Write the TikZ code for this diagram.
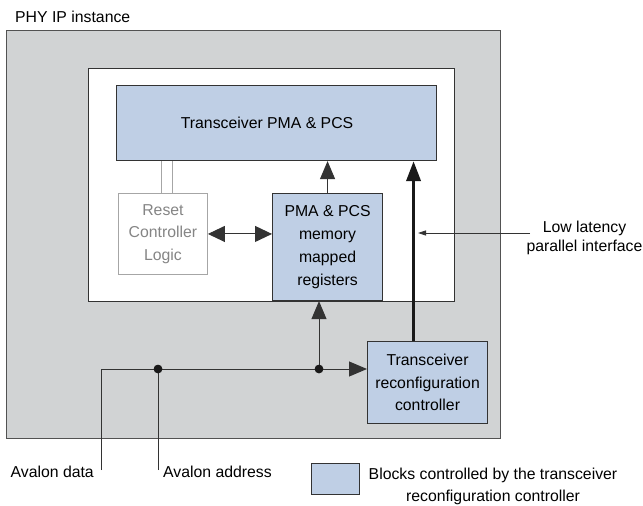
\documentclass[tikz,border=0pt]{standalone}
\usepackage{fontspec}
\setmainfont{Liberation Sans}
\usetikzlibrary{arrows.meta,calc}

\definecolor{shellgray}{HTML}{D1D3D4}
\definecolor{ctrlblue}{HTML}{BFCFE5}
\definecolor{edgegray}{HTML}{333333}
\definecolor{resetgray}{HTML}{858585}
\definecolor{resetedge}{HTML}{A6A6A6}

\tikzset{
  lbl/.style={font=\fontsize{15.8}{22.5}\selectfont, align=center, inner sep=0pt},
  shell/.style={draw=edgegray!85, line width=1.3pt, fill=shellgray, anchor=north west, inner sep=0pt},
  area/.style={draw=edgegray, line width=1.1pt, fill=white, anchor=north west, inner sep=0pt},
  ctrlbox/.style={draw=edgegray, line width=1.1pt, fill=ctrlblue, anchor=north west, inner sep=0pt,
    font=\fontsize{15.8}{22.5}\selectfont, align=center},
  resetbox/.style={draw=resetedge, line width=0.9pt, fill=white, anchor=north west, inner sep=0pt,
    text=resetgray, font=\fontsize{15.8}{22.5}\selectfont, align=center},
  wire/.style={draw=edgegray, line width=1pt},
  resetwire/.style={draw=resetedge, line width=0.9pt},
  arr/.style={wire, -{Triangle[length=18pt,width=15pt]}},
  dblarr/.style={wire, {Triangle[length=17pt,width=16pt]}-{Triangle[length=17pt,width=16pt]}},
  busarr/.style={draw=black!90, line width=3.6pt, -{Triangle[length=20pt,width=14pt]}},
  smallarr/.style={draw=edgegray, line width=0.8pt, -{Triangle[length=8pt,width=5pt]}},
  junction/.style={circle, fill=black!90, inner sep=0pt, minimum size=8.5pt},
}

\begin{document}
\begin{tikzpicture}[x=1pt, y=-1pt]
\useasboundingbox (0,0) rectangle (643,506);

% outer PHY IP wrapper and its title
\node[lbl, anchor=base west] (title) at (15,22) {PHY IP instance};
\node[shell, minimum width=494pt, minimum height=408pt] (phy) at (6,30) {};

% inner area holding the PMA/PCS blocks
\node[area, minimum width=366pt, minimum height=233pt] (core) at (88,68) {};

% functional blocks
\node[ctrlbox, minimum width=320pt, minimum height=75pt] (pma) at (116,85) {};
\node[lbl] (pmatext) at ([xshift=-9.5pt]pma.center) {Transceiver PMA \& PCS};
\node[resetbox, minimum width=89pt, minimum height=81pt] (reset) at (118,193)
  {Reset\\Controller\\Logic};
\node[ctrlbox, minimum width=110pt, minimum height=107pt, font=\fontsize{15.8}{23}\selectfont] (regs) at (272,193)
  {PMA \& PCS\\memory\\mapped\\registers};
\node[ctrlbox, minimum width=120pt, minimum height=82pt] (reconf) at (367,341)
  {Transceiver\\reconfiguration\\controller};

% reset controller link to the PMA
\draw[resetwire] ([xshift=-1.5pt]reset.north) -- ([xshift=-1.5pt]reset.north |- pma.south);
\draw[resetwire] ([xshift=9.5pt]reset.north) -- ([xshift=9.5pt]reset.north |- pma.south);

% register paths
\draw[arr] (regs.north) -- (regs.north |- pma.south);
\draw[dblarr] (reset.east) -- (reset.east -| regs.west);

% low latency parallel bus
\draw[busarr] ([xshift=-14pt]reconf.north) -- ([xshift=-14pt]reconf.north |- pma.south);
\node[lbl, font=\fontsize{15.8}{19.5}\selectfont] (lowlat) at (584.5,238) {Low latency\\parallel interface};
\coordinate (llstart) at (530,233);
\coordinate (lltip) at (418,233);
\draw[smallarr] (llstart) -- (lltip);

% Avalon interface wiring
\coordinate (dataend) at (101,470);
\coordinate (addrend) at (158,470);
\node[junction] (j1) at (158,369) {};
\node[junction] (j2) at (319,369) {};
\draw[wire] (dataend) |- (j1.center);
\draw[wire] (addrend) -- (j1.center);
\draw[arr] (j1.center) -- (j1.center -| reconf.west);
\draw[arr] (j2.center) -- (j2.center |- regs.south);
\node[junction] at (j1) {};
\node[junction] at (j2) {};

\node[lbl, anchor=base east] (datalbl) at (94,477) {Avalon data};
\node[lbl, anchor=base west] (addrlbl) at (163,477) {Avalon address};

% legend
\node[ctrlbox, minimum width=48pt, minimum height=31pt] (legbox) at (311,463) {};
\node[lbl, font=\fontsize{15.8}{21.5}\selectfont] (legtext) at (493,486.5)
  {Blocks controlled by the transceiver\\reconfiguration controller};
\end{tikzpicture}
\end{document}
